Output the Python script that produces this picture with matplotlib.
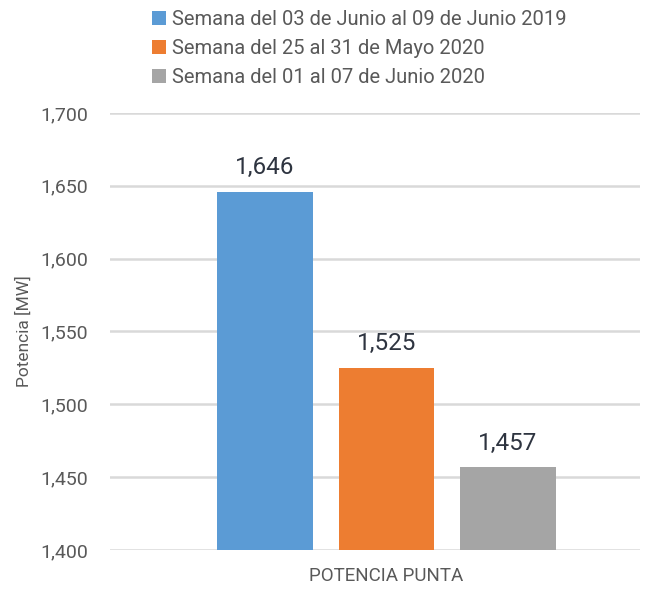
import matplotlib.pyplot as plt
from matplotlib.ticker import FuncFormatter

# Datos del gráfico
categorias = ["POTENCIA PUNTA"]
series = ["Semana del 03 de Junio al 09 de Junio 2019",
          "Semana del 25 al 31 de Mayo 2020",
          "Semana del 01 al 07 de Junio 2020"]
valores = [1646, 1525, 1457]
colores = ["#5B9BD5", "#ED7D31", "#A5A5A5"]

plt.rcParams['font.family'] = ['Roboto', 'DejaVu Sans']

fig = plt.figure(figsize=(6.49, 5.93), dpi=100)
ax = fig.add_axes([0.1695, 0.0725, 0.8165, 0.737])

desplazamientos = [-1, 0, 1]
for nombre, valor, color, d in zip(series, valores, colores, desplazamientos):
    ax.bar(d, valor, width=0.79, color=color, label=nombre, zorder=3)
    ax.annotate(f"{valor:,}", (d, valor), xytext=(0, 9), textcoords="offset points",
                ha="center", va="bottom", fontsize=17.5, color="#2E3440")

ax.set_ylim(1400, 1700)
ax.set_xlim(-2.276, 2.086)
ax.set_yticks(range(1400, 1701, 50))
ax.yaxis.set_major_formatter(FuncFormatter(lambda v, p: f"{int(v):,}"))
ax.set_xticks([0])
ax.set_xticklabels(categorias)

ax.grid(axis="y", color="#D9D9D9", linewidth=1.8, zorder=0)
for s in ax.spines.values():
    s.set_visible(False)
ax.tick_params(axis="x", length=0, labelsize=13.5, colors="#595959", pad=12)
ax.tick_params(axis="y", length=0, labelsize=14, colors="#595959", pad=16)
ax.set_ylabel("Potencia [MW]", fontsize=12.5, color="#595959", labelpad=6)

fig.legend(loc="upper left", bbox_to_anchor=(0.222, 0.997), frameon=False,
           fontsize=14.5, labelcolor="#595959", handlelength=0.7, handleheight=0.7,
           handletextpad=0.3, labelspacing=0.5, borderaxespad=0)

fig.savefig("out.png", dpi=100)
